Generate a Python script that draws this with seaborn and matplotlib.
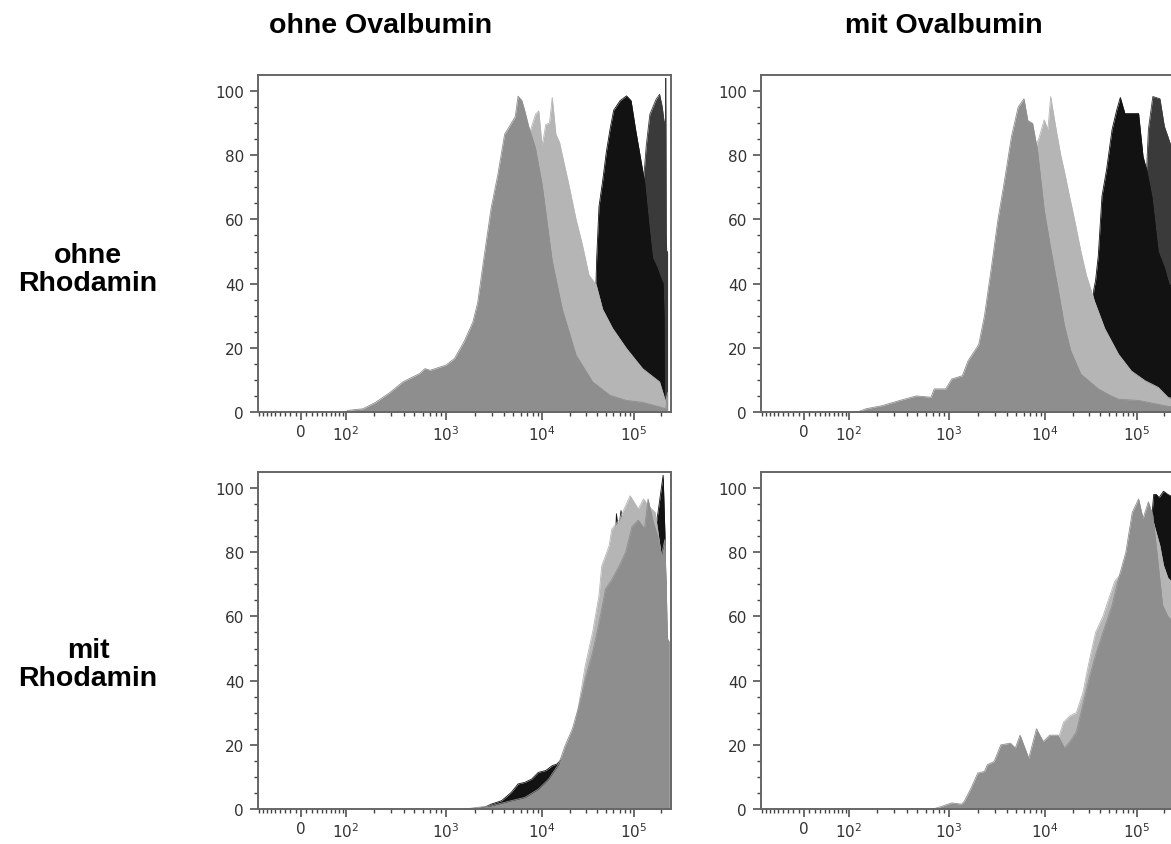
import numpy as np
import pandas as pd
import matplotlib
matplotlib.use("Agg")
import matplotlib.pyplot as plt
import seaborn as sns

# ---------------- data (x given as log10 of fluorescence intensity, y in % of max) -------------
col_titles = ["ohne Ovalbumin", "mit Ovalbumin"]
row_titles = ["ohne\nRhodamin", "mit\nRhodamin"]
tick_values = [0, 1e2, 1e3, 1e4, 1e5]
tick_labels = ["0", r"$10^2$", r"$10^3$", r"$10^4$", r"$10^5$"]
y_ticks = [0, 20, 40, 60, 80, 100]

# panel 1: ohne Ovalbumin / ohne Rhodamin
p1_medium_logx = [2.0, 2.02, 2.19, 2.32, 2.46, 2.59, 2.75, 2.80, 2.85, 3.0, 3.09, 3.19, 3.28, 3.33, 3.40, 3.47,
                  3.54, 3.61, 3.66, 3.72, 3.75, 3.79, 3.82, 3.86, 3.93, 4.0, 4.11, 4.22, 4.37, 4.55, 4.74,
                  4.92, 5.10, 5.29, 5.36, 5.38]
p1_medium_y = [0, 0.5, 1, 3, 6, 9.4, 12, 13.5, 13, 14.6, 16.7, 22, 28, 34, 49, 63.5,
               74, 86.5, 89, 92, 98.4, 97, 93.8, 89, 82.3, 70.8, 47, 32, 17.7, 9.4, 5.2,
               3.6, 3, 1.6, 1, 6]
p1_light_logx = [2.9, 3.1, 3.3, 3.5, 3.7, 3.85, 3.93, 3.965, 3.99, 4.0, 4.04, 4.08, 4.11, 4.15, 4.19, 4.22,
                 4.29, 4.37, 4.44, 4.51, 4.59, 4.66, 4.77, 4.92, 5.10, 5.29, 5.36, 5.38]
p1_light_y = [0, 2, 8, 28, 60, 85, 92.7, 93.8, 86, 83, 89.6, 90, 98, 86.5, 84, 80,
              71, 60, 52, 42.7, 39.6, 32, 26, 19.8, 13.5, 9.4, 3, 6]
p1_black_logx = [4.45, 4.52, 4.57, 4.585, 4.595, 4.62, 4.66, 4.70, 4.74, 4.78, 4.85, 4.92, 4.97, 5.02,
                 5.07, 5.12, 5.17, 5.21, 5.26, 5.30, 5.33, 5.34, 5.345]
p1_black_y = [0, 15, 35, 38, 48, 64, 72, 81, 88, 94, 97, 98.5, 97, 88,
              80, 72, 58, 48, 45, 42, 40, 30, 0]
p1_dark_logx = [4.9, 5.0, 5.08, 5.12, 5.14, 5.18, 5.25, 5.29, 5.32, 5.34, 5.355, 5.36, 5.365, 5.37, 5.38]
p1_dark_y = [0, 30, 60, 76, 83, 92.7, 97.4, 99, 95, 90.6, 90, 104, 55, 50, 50]

# panel 2: mit Ovalbumin / ohne Rhodamin
p2_medium_logx = [2.1, 2.19, 2.36, 2.53, 2.69, 2.83, 2.86, 2.97, 3.03, 3.14, 3.20, 3.31, 3.37, 3.44, 3.51,
                  3.58, 3.65, 3.72, 3.78, 3.82, 3.87, 3.92, 3.99, 4.06, 4.14, 4.21, 4.28, 4.39, 4.58,
                  4.72, 4.80, 5.02, 5.31, 5.42]
p2_medium_y = [0, 1, 2, 3.6, 5, 4.6, 7.2, 7.2, 10.3, 11.3, 16, 21, 30, 44.7, 60,
               72.5, 85.8, 95, 97.6, 90.8, 89.9, 81.7, 63, 51, 38.5, 27, 19, 11.8, 7.2,
               5, 4, 3.6, 2, 1.5]
p2_light_logx = [3.0, 3.3, 3.5, 3.7, 3.85, 3.94, 3.99, 4.03, 4.06, 4.12, 4.17, 4.21, 4.26, 4.32, 4.39,
                 4.45, 4.54, 4.65, 4.80, 4.94, 5.09, 5.24, 5.35, 5.42]
p2_light_y = [0, 8, 25, 55, 78, 85.8, 91, 88, 98.3, 88, 80, 75, 68, 60, 50,
              42.6, 34.4, 26, 18, 12.8, 9.8, 7.7, 4.6, 4]
p2_black_logx = [4.35, 4.45, 4.52, 4.53, 4.55, 4.58, 4.62, 4.67, 4.73, 4.78, 4.82, 4.87, 4.94, 5.02,
                 5.07, 5.11, 5.17, 5.24, 5.31, 5.36, 5.42]
p2_black_y = [0, 20, 34, 38, 41, 48.8, 67.3, 75.5, 88, 94, 98, 93, 93, 93,
              79.6, 75.5, 67, 50, 45, 40, 38]
p2_dark_logx = [4.9, 5.0, 5.08, 5.11, 5.13, 5.18, 5.26, 5.31, 5.35, 5.42]
p2_dark_y = [0, 40, 70, 75.5, 88, 98.3, 97.6, 89, 85.8, 80]

# panel 3: ohne Ovalbumin / mit Rhodamin
p3_medium_logx = [3.2, 3.33, 3.47, 3.68, 3.82, 3.96, 4.07, 4.18, 4.25, 4.33, 4.40, 4.47, 4.55, 4.62,
                  4.69, 4.76, 4.84, 4.91, 4.98, 5.05, 5.12, 5.16, 5.22, 5.27, 5.31, 5.35, 5.38, 5.40]
p3_medium_y = [0, 0.5, 1, 2.6, 3.6, 6.2, 9.3, 14, 19.7, 25, 32, 40.5, 48.8, 58,
               68.5, 71.5, 75.7, 80, 88, 90, 87.3, 96.6, 89.3, 85, 79, 84, 53, 52]
p3_light_logx = [3.8, 4.0, 4.2, 4.35, 4.47, 4.55, 4.62, 4.65, 4.73, 4.76, 4.84, 4.91, 4.96, 5.05,
                 5.11, 5.16, 5.24, 5.31, 5.36, 5.38]
p3_light_y = [0, 3, 11, 24, 44.6, 55, 66.5, 75.7, 82, 87.2, 90, 94.5, 97.6, 93.5,
              96.6, 94.5, 92.4, 79, 55, 52]
p3_black_logx = [3.3, 3.40, 3.47, 3.58, 3.68, 3.75, 3.82, 3.89, 3.96, 4.04, 4.11, 4.16, 4.3, 4.5,
                 4.7, 4.80, 4.81, 4.83, 4.86, 4.88, 4.92, 5.0, 5.2, 5.27, 5.30, 5.33, 5.35, 5.36, 5.37]
p3_black_y = [0, 0.5, 1.5, 2.6, 5.2, 7.8, 8.3, 9.3, 11.4, 12, 13.5, 14, 18, 35,
              65, 85, 92, 86, 93, 87, 86, 80, 80, 92, 98, 104, 86, 70, 0]

# panel 4: mit Ovalbumin / mit Rhodamin
p4_medium_logx = [2.85, 2.93, 3.03, 3.13, 3.16, 3.23, 3.30, 3.37, 3.40, 3.47, 3.54, 3.64, 3.69, 3.74,
                  3.83, 3.91, 3.98, 4.05, 4.14, 4.21, 4.27, 4.34, 4.41, 4.48, 4.55, 4.63, 4.73, 4.80,
                  4.88, 4.95, 5.02, 5.07, 5.13, 5.18, 5.23, 5.29, 5.35, 5.42]
p4_medium_y = [0, 0.8, 1.9, 1.5, 2.4, 6.5, 11.2, 11.7, 13.8, 14.8, 20, 20.5, 19, 23,
               15.8, 25, 21, 23, 23, 19, 21, 24, 32.4, 40.7, 48, 55, 63.5, 71.7,
               80, 92.4, 96.6, 90.5, 95.7, 91.5, 79, 63.5, 60, 58]
p4_light_logx = [3.8, 4.0, 4.1, 4.2, 4.27, 4.34, 4.41, 4.48, 4.55, 4.63, 4.70, 4.76, 4.85, 4.95,
                 5.02, 5.08, 5.13, 5.18, 5.22, 5.26, 5.30, 5.35, 5.42]
p4_light_y = [0, 10, 18, 27, 29, 30, 36, 46, 55, 60, 66, 71, 74, 85,
              92, 88, 93, 90, 86, 82, 76, 72, 70]
p4_black_logx = [5.0, 5.1, 5.15, 5.19, 5.22, 5.25, 5.3, 5.35, 5.42]
p4_black_y = [0, 60, 85, 98, 98, 97, 99, 98, 97]

series_colors = {"dark": "#3a3a3a", "black": "#121212", "light": "#b5b5b5", "medium": "#8e8e8e"}
draw_order = ["dark", "black", "light", "medium"]

panels = {
    (0, 0): {"medium": (p1_medium_logx, p1_medium_y), "light": (p1_light_logx, p1_light_y),
             "black": (p1_black_logx, p1_black_y), "dark": (p1_dark_logx, p1_dark_y)},
    (0, 1): {"medium": (p2_medium_logx, p2_medium_y), "light": (p2_light_logx, p2_light_y),
             "black": (p2_black_logx, p2_black_y), "dark": (p2_dark_logx, p2_dark_y)},
    (1, 0): {"medium": (p3_medium_logx, p3_medium_y), "light": (p3_light_logx, p3_light_y),
             "black": (p3_black_logx, p3_black_y)},
    (1, 1): {"medium": (p4_medium_logx, p4_medium_y), "light": (p4_light_logx, p4_light_y),
             "black": (p4_black_logx, p4_black_y)},
}

# ---------------- biexponential-like axis scale ----------------
W = 78.0
KX = np.array([-93.0, 0.0, 1e2, 1e3, 1e4, 1e5, 262144.0])
KF = np.array([0.0, 0.104, 0.213, 0.455, 0.688, 0.910, 1.0])
KA = np.arcsinh(KX / W)


def _interp_ext(v, xp, fp):
    v = np.asarray(v, dtype=float)
    out = np.interp(v, xp, fp)
    lo = v < xp[0]
    hi = v > xp[-1]
    s0 = (fp[1] - fp[0]) / (xp[1] - xp[0])
    s1 = (fp[-1] - fp[-2]) / (xp[-1] - xp[-2])
    out = np.where(lo, fp[0] + (v - xp[0]) * s0, out)
    out = np.where(hi, fp[-1] + (v - xp[-1]) * s1, out)
    return out


def fwd(x):
    return _interp_ext(np.arcsinh(np.asarray(x, dtype=float) / W), KA, KF)


def inv(f):
    return np.sinh(_interp_ext(f, KF, KA)) * W


# ---------------- figure ----------------
sns.set_theme(style="white")
plt.rcParams["font.family"] = ["DejaVu Sans"]
plt.rcParams["mathtext.fontset"] = "dejavusans"

FW, FH = 1171, 845
fig = plt.figure(figsize=(FW / 100, FH / 100), dpi=100)

ax_left = [258, 761]
ax_top = [76, 473]
ax_w, ax_h = 413, 337

minor_x = ([-v for v in range(10, 100, 10)] + list(range(10, 100, 10)) + list(range(200, 1000, 100))
           + list(range(2000, 10000, 1000)) + list(range(20000, 100000, 10000)) + [200000])

for (r, c), data in panels.items():
    ax = fig.add_axes([ax_left[c] / FW, 1 - (ax_top[r] + ax_h) / FH, ax_w / FW, ax_h / FH])
    ax.set_xscale("function", functions=(fwd, inv))
    for k, name in enumerate(draw_order):
        if name not in data:
            continue
        lx, yy = data[name]
        xv = np.power(10.0, np.asarray(lx, dtype=float))
        yv = np.asarray(yy, dtype=float)
        z = 2 + k
        ax.fill_between(xv, 0, yv, color=series_colors[name], linewidth=0, zorder=z)
        df = pd.DataFrame({"x": xv, "y": yv})
        sns.lineplot(data=df, x="x", y="y", ax=ax, color=series_colors[name], linewidth=0.6,
                     estimator=None, sort=False, zorder=z + 0.5)
    ax.set_xlim(-93, 262144)
    ax.set_ylim(0, 105)
    ax.set_xlabel("")
    ax.set_ylabel("")
    ax.set_xticks(tick_values)
    ax.set_xticklabels(tick_labels)
    ax.set_xticks(minor_x, minor=True)
    ax.set_yticks(y_ticks)
    ax.set_yticks(list(range(5, 105, 5)), minor=True)
    ax.tick_params(axis="both", which="major", direction="out", length=6, width=1.1, color="#444444",
                   labelsize=11, labelcolor="#333333", pad=4, bottom=True, left=True)
    ax.tick_params(axis="both", which="minor", direction="out", length=3, width=1.0, color="#444444",
                   bottom=True, left=True)
    ax.tick_params(axis="x", which="major", pad=3)
    for sp in ax.spines.values():
        sp.set_color("#666666")
        sp.set_linewidth(1.4)
        sp.set_visible(True)
        sp.set_zorder(10)
    ax.set_facecolor("white")

title_font = dict(family=["Liberation Sans", "DejaVu Sans"], fontsize=20.5, fontweight="bold", color="black")
fig.text(381 / FW, 1 - 26 / FH, col_titles[0], ha="center", va="center", **title_font)
fig.text(944 / FW, 1 - 26 / FH, col_titles[1], ha="center", va="center", **title_font)
fig.text(88 / FW, 1 - 270 / FH, row_titles[0], ha="center", va="center", linespacing=1.1, **title_font)
fig.text(88 / FW, 1 - 665 / FH, row_titles[1], ha="center", va="center", linespacing=1.1, **title_font)

fig.savefig("out.png", dpi=100)
